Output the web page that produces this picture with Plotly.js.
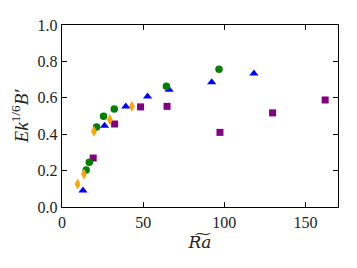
<!DOCTYPE html>
<html><head><meta charset="utf-8">
<script src="https://cdn.plot.ly/plotly-3.0.1.min.js"></script>
<style>html,body{margin:0;padding:0;background:#fff}#chart{width:357px;height:268px}</style>
</head><body><div id="chart"></div>
<script>
const orangeX = [9.6, 13.5, 19.7, 29.5, 43.0];
const orangeY = [0.126, 0.181, 0.416, 0.480, 0.553];
const greenX = [14.9, 16.8, 21.3, 25.6, 32.2, 64.3, 96.7];
const greenY = [0.203, 0.246, 0.440, 0.498, 0.539, 0.663, 0.757];
const blueX = [12.9, 26.2, 39.3, 52.7, 66.0, 92.2, 118.2];
const blueY = [0.090, 0.447, 0.552, 0.607, 0.644, 0.685, 0.733];
const purpleX = [19.2, 32.4, 48.4, 64.7, 97.3, 129.7, 162.1];
const purpleY = [0.269, 0.456, 0.550, 0.553, 0.410, 0.517, 0.588];
const xTicks = [0, 50, 100, 150];
const yTicks = [0.0, 0.2, 0.4, 0.6, 0.8, 1.0];

const font = {family: 'Liberation Serif, DejaVu Serif, serif', color: '#222', size: 16};
function tr(x, y, color, symbol, size) {
  return {x: x, y: y, type: 'scatter', mode: 'markers', cliponaxis: false,
    marker: {color: color, symbol: symbol, size: size, line: {width: 0}}};
}
const data = [
  tr(purpleX, purpleY, '#800080', 'square', 7),
  tr(blueX, blueY, '#0000FF', 'triangle-up', 8),
  tr(greenX, greenY, '#008000', 'circle', 7.5),
  tr(orangeX, orangeY, '#FFA500', 'diamond-tall', 8),
];
const axisCommon = {showgrid: false, zeroline: false, showline: true, linecolor: '#000', linewidth: 1.3,
  mirror: 'allticks', ticks: 'inside', ticklen: 5, tickwidth: 1, tickcolor: '#000', tickfont: font};
const layout = {
  width: 357, height: 268, showlegend: false,
  paper_bgcolor: '#fff', plot_bgcolor: '#fff',
  margin: {l: 62, r: 19, t: 25, b: 61},
  xaxis: Object.assign({}, axisCommon, {range: [0, 170], tickvals: xTicks, ticktext: xTicks.map(String),
    title: {text: '<i>R\u0360a</i>', font: {family: 'DejaVu Serif, serif', size: 17, color: '#222'}, standoff: 6}}),
  yaxis: Object.assign({}, axisCommon, {range: [0, 1], tickvals: yTicks, ticktext: yTicks.map(v => v.toFixed(1)),
    title: {text: '<i>Ek</i><sup>1/6</sup><i>B\u2032</i>', font: {family: 'Liberation Serif, serif', size: 19, color: '#222'}, standoff: 4}}),
};
Plotly.newPlot('chart', data, layout, {staticPlot: true, displayModeBar: false});
</script></body></html>
